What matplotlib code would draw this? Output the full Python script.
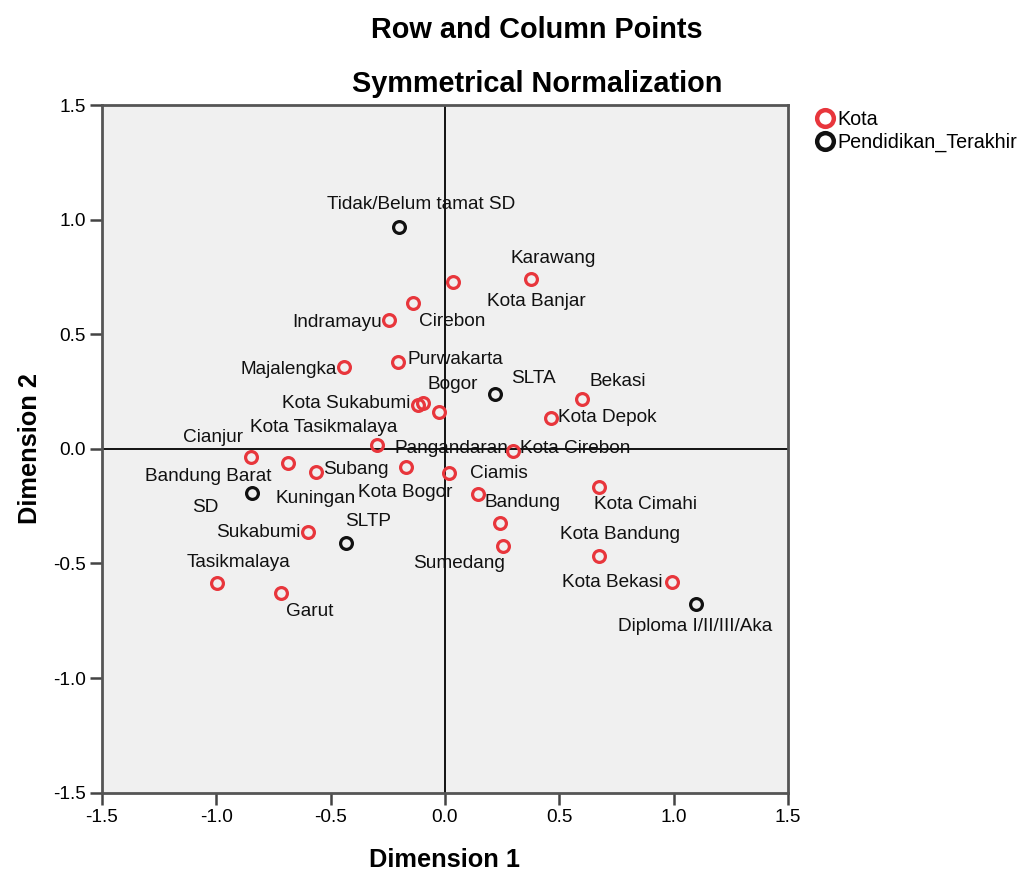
import matplotlib
matplotlib.use('Agg')
import matplotlib.pyplot as plt
from matplotlib.lines import Line2D

plt.rcParams['font.family'] = ['Liberation Sans', 'DejaVu Sans']

# row points (Kota)
kota = ['Karawang', 'Kota Banjar', 'Cirebon', 'Indramayu', 'Purwakarta',
        'Majalengka', 'Kota Sukabumi', 'Bogor', 'Kota Tasikmalaya', 'Bekasi',
        'Kota Depok', 'Pangandaran', 'Kota Cirebon', 'Cianjur', 'Bandung Barat',
        'Subang', 'Kota Bogor', 'Ciamis', 'Bandung', 'Kuningan', 'Sumedang',
        'Kota Cimahi', 'Kota Bandung', 'Kota Bekasi', 'Sukabumi', 'Tasikmalaya',
        'Garut']
kota_d1 = [0.375, 0.034, -0.139, -0.246, -0.204, -0.440, -0.117, -0.095, -0.026,
           0.599, 0.463, -0.299, 0.299, -0.848, -0.685, -0.564, -0.172, 0.017,
           0.143, 0.242, 0.255, 0.674, 0.674, 0.991, -0.597, -0.997, -0.718]
kota_d2 = [0.740, 0.730, 0.635, 0.562, 0.380, 0.356, 0.192, 0.202, 0.160,
           0.218, 0.136, 0.017, -0.008, -0.034, -0.060, -0.099, -0.078, -0.106,
           -0.197, -0.325, -0.422, -0.165, -0.466, -0.582, -0.361, -0.586, -0.627]

# column points (Pendidikan_Terakhir)
pend = ['Tidak/Belum tamat SD', 'SLTA', 'SD', 'SLTP', 'Diploma I/II/III/Aka']
pend_d1 = [-0.200, 0.219, -0.842, -0.433, 1.097]
pend_d2 = [0.969, 0.238, -0.194, -0.412, -0.677]

# label offsets in pixels (placement as in the SPSS output)
kota_off = [(22, 21), (84, -20), (39, -18), (-52, -2), (57, 2), (-56, -2),
            (-72, 1), (30, 18), (-115, -15), (36, 17), (56, 0), (75, -4),
            (62, 2), (-38, 19), (-80, -14), (40, 2), (0, -26), (50, 0),
            (45, -8), (-185, 25), (-44, -18), (46, -18), (21, 21), (-59, 0),
            (-50, -1), (22, 21), (29, -19)]
pend_off = [(22, 22), (38, 16), (-47, -14), (22, 22), (-1, -22)]

red = '#e8363c'
blk = '#111111'

fig = plt.figure(figsize=(10.18, 8.73), dpi=100)
ax = fig.add_axes([0.0999, 0.092, 0.6743, 0.7877])
ax.set_facecolor('#f0f0f0')

ax.axhline(0, color='black', lw=1.3, zorder=1)
ax.axvline(0, color='black', lw=1.3, zorder=1)

ax.plot(kota_d1, kota_d2, 'o', ms=8.5, mfc='none', mec=red, mew=2.3, zorder=3)
ax.plot(pend_d1, pend_d2, 'o', ms=8.5, mfc='none', mec=blk, mew=2.3, zorder=3)

for name, x, y, off in zip(kota, kota_d1, kota_d2, kota_off):
    ax.annotate(name, (x, y), xytext=off, textcoords='offset pixels',
                ha='center', va='center', fontsize=13.7, color='#111111', zorder=2)
for name, x, y, off in zip(pend, pend_d1, pend_d2, pend_off):
    ax.annotate(name, (x, y), xytext=off, textcoords='offset pixels',
                ha='center', va='center', fontsize=13.7, color='#111111', zorder=2)

ax.set_xlim(-1.5, 1.5)
ax.set_ylim(-1.5, 1.5)
ticks = [-1.5, -1.0, -0.5, 0.0, 0.5, 1.0, 1.5]
ax.set_xticks(ticks)
ax.set_yticks(ticks)
ax.set_xticklabels(['%.1f' % t for t in ticks])
ax.set_yticklabels(['%.1f' % t for t in ticks])
ax.tick_params(direction='out', length=8.5, width=1.8, color='#444444',
               labelsize=13.7, pad=3)
for sp in ax.spines.values():
    sp.set_color('#555555')
    sp.set_linewidth(2)

ax.set_xlabel('Dimension 1', fontsize=18.3, fontweight='bold', labelpad=16)
ax.set_ylabel('Dimension 2', fontsize=18.3, fontweight='bold', labelpad=8)

fig.text(0.5275, 0.966, 'Row and Column Points', ha='center', va='center',
         fontsize=20.8, fontweight='bold')
fig.text(0.5275, 0.904, 'Symmetrical Normalization', ha='center', va='center',
         fontsize=20.8, fontweight='bold')

handles = [Line2D([], [], ls='none', marker='o', ms=12, mfc='none', mec=red, mew=3.2),
           Line2D([], [], ls='none', marker='o', ms=12, mfc='none', mec=blk, mew=3.2)]
fig.legend(handles, ['Kota', 'Pendidikan_Terakhir'], loc='upper left',
           bbox_to_anchor=(0.803, 0.874), frameon=False, fontsize=14.2,
           borderpad=0, handlelength=0.8, handletextpad=0.2, labelspacing=0.2,
           borderaxespad=0)

fig.savefig('out.png', dpi=100)
